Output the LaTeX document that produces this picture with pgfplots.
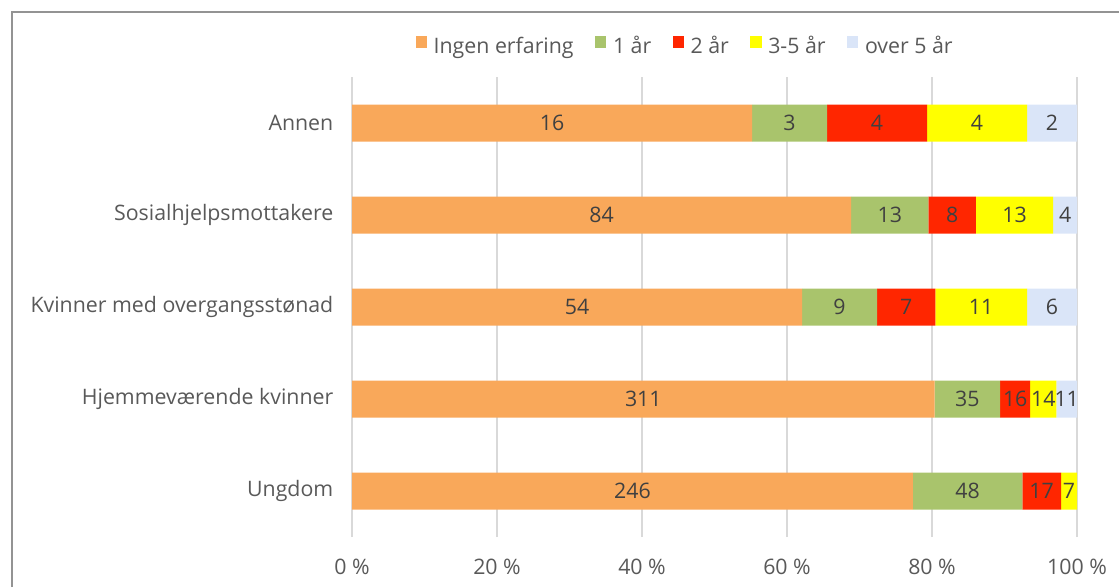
\documentclass[border=0pt]{standalone}
\usepackage{pgfplots}
\pgfplotsset{compat=1.18}
\usepackage{fontspec}
\setmainfont{Open Sans}
\definecolor{cOr}{HTML}{F9A85A}
\definecolor{cGr}{HTML}{A9C46C}
\definecolor{cRd}{HTML}{FF2600}
\definecolor{cYe}{HTML}{FFFF00}
\definecolor{cBl}{HTML}{DAE5F8}
\definecolor{txt}{HTML}{595959}
\definecolor{lab}{HTML}{404040}
\definecolor{grd}{HTML}{D9D9D9}
\pgfplotsset{common/.style={
  at={(264pt,37.5pt)}, anchor=south west,
  scale only axis, width=543.75pt, height=345pt,
  xmin=0, xmax=100, ymin=-0.5, ymax=4.5}}
\begin{document}
\begin{tikzpicture}
\path[use as bounding box] (0pt,0pt) rectangle (839.25pt,440.25pt);
\draw[color=gray!85, line width=1.2pt] (9pt,0pt) -- (9pt,431.25pt) -- (839.25pt,431.25pt);
\begin{axis}[
  common,
  xbar stacked, bar width=27.75pt,
  xtick={0,20,...,100},
  xticklabel={\pgfmathprintnumber{\tick}~\%},
  /pgf/number format/assume math mode=true,
  ytick={0,1,2,3,4},
  yticklabels={Ungdom,Hjemmeværende kvinner,Kvinner med overgangsstønad,Sosialhjelpsmottakere,Annen},
  tick style={draw=none},
  axis line style={draw=none},
  xmajorgrids, grid style={grd, line width=1.1pt},
  ticklabel style={font=\fontsize{16}{19}\selectfont, text=txt},
  yticklabel style={xshift=-10.5pt},
  xticklabel style={yshift=-13pt},
  legend columns=5,
  legend style={draw=none, at={(0.46,1.067)}, anchor=center, font=\fontsize{16}{19}\selectfont, text=txt,
    /tikz/every odd column/.append style={column sep=3pt},
    /tikz/every even column/.append style={column sep=14pt}},
  legend image code/.code={\fill[#1] (0pt,-1pt) rectangle (8.5pt,7.5pt);},
  legend cell align=left,
]
\addplot[fill=cOr, draw=none] coordinates {(77.358,0) (80.362,1) (62.069,2) (68.852,3) (55.172,4)};
\addplot[fill=cGr, draw=none] coordinates {(15.094,0) (9.044,1) (10.345,2) (10.656,3) (10.345,4)};
\addplot[fill=cRd, draw=none] coordinates {(5.346,0) (4.134,1) (8.046,2) (6.557,3) (13.793,4)};
\addplot[fill=cYe, draw=none] coordinates {(2.201,0) (3.618,1) (12.644,2) (10.656,3) (13.793,4)};
\addplot[fill=cBl, draw=none] coordinates {(0,0) (2.842,1) (6.897,2) (3.279,3) (6.897,4)};
\legend{Ingen erfaring,1 år,2 år,3-5 år,over 5 år}
\end{axis}
\begin{axis}[
  common, hide axis,
  point meta=explicit symbolic,
  nodes near coords,
  every node near coord/.append style={font=\fontsize{16}{19}\selectfont, text=lab, anchor=center, inner sep=0pt},
]
\addplot[only marks, mark=none] coordinates {
 (38.679,0)[246] (84.905,0)[48] (95.125,0)[17] (98.899,0)[7]
 (40.181,1)[311] (84.884,1)[35] (91.473,1)[16] (95.349,1)[14] (98.579,1)[11]
 (31.035,2)[54] (67.242,2)[9] (76.437,2)[7] (86.782,2)[11] (96.553,2)[6]
 (34.426,3)[84] (74.180,3)[13] (82.787,3)[8] (91.393,3)[13] (98.361,3)[4]
 (27.586,4)[16] (60.345,4)[3] (72.414,4)[4] (86.207,4)[4] (96.552,4)[2]};
\end{axis}
\end{tikzpicture}
\end{document}
